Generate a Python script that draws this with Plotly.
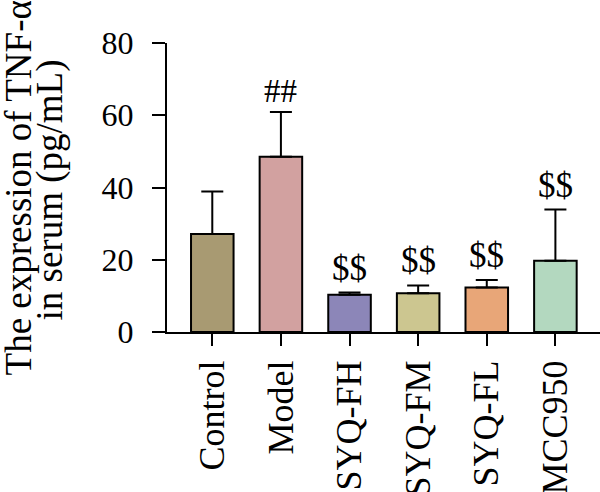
import plotly.graph_objects as go

categories = ["Control", "Model", "SYQ-FH", "SYQ-FM", "SYQ-FL", "MCC950"]
means = [27.1, 48.5, 10.3, 10.7, 12.3, 19.7]
sds = [11.8, 12.4, 0.6, 2.2, 2.1, 14.2]
marks = ["", "##", "$$", "$$", "$$", "$$"]
colors = ["#a89a72", "#d2a1a0", "#8c86b8", "#ccc690", "#e8a678", "#b3d8bf"]
yticks = [0, 20, 40, 60, 80]

FONT = "Liberation Serif, Times New Roman, serif"

fig = go.Figure()
fig.add_trace(go.Bar(
    x=list(range(len(categories))),
    y=means,
    width=0.62,
    marker=dict(color=colors, line=dict(color="black", width=2)),
    error_y=dict(type="data", array=sds, arrayminus=[0] * len(sds),
                 symmetric=False, color="black", thickness=2, width=11),
))

for i, (m, s, t) in enumerate(zip(means, sds, marks)):
    if t:
        fig.add_annotation(x=i, y=m + s, text=t, showarrow=False,
                           yanchor="bottom", yshift=3 if t == "$$" else 1,
                           font=dict(family=FONT, size=35 if t == "$$" else 33, color="black"))

# Y-axis title as two rotated lines
fig.add_annotation(xref="paper", yref="paper", x=-0.342, y=0.5, xanchor="center", yanchor="middle",
                   text="The expression of TNF-α", textangle=-90, showarrow=False,
                   font=dict(family=FONT, size=37, color="black"))
fig.add_annotation(xref="paper", yref="paper", x=-0.27, y=0.49, xanchor="center", yanchor="middle",
                   text="in serum (pg/mL)", textangle=-90, showarrow=False,
                   font=dict(family=FONT, size=37, color="black"))

fig.update_layout(
    width=600, height=492,
    margin=dict(l=167, r=0, t=43, b=160, autoexpand=False),
    paper_bgcolor="white", plot_bgcolor="white",
    showlegend=False,
    font=dict(family=FONT, color="black"),
    xaxis=dict(
        range=[-0.66, 5.65], automargin=False,
        tickmode="array", tickvals=list(range(len(categories))), ticktext=categories,
        tickangle=-90, ticks="outside", ticklen=12, tickwidth=2, tickcolor="black",
        showline=True, linewidth=2, linecolor="black", showgrid=False, zeroline=False,
        tickfont=dict(family=FONT, size=36, color="black"),
        ticklabelstandoff=0,
    ),
    yaxis=dict(
        range=[0, 80], tickmode="array", tickvals=yticks, automargin=False,
        ticks="outside", ticklen=13, tickwidth=2, tickcolor="black",
        showline=True, linewidth=2, linecolor="black", showgrid=False, zeroline=False,
        tickfont=dict(family=FONT, size=32, color="black"),
        ticklabelstandoff=12,
    ),
)

fig.write_html("out.html")
